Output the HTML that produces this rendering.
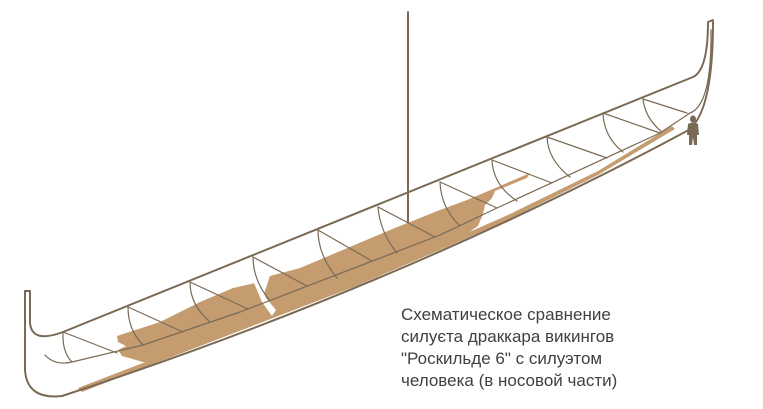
<!DOCTYPE html>
<html><head><meta charset="utf-8"><style>
html,body{margin:0;padding:0;background:#fff}
svg{display:block}
text{font-family:"Liberation Sans",Arial,sans-serif;font-size:17px;fill:#404040}
</style></head><body>
<svg width="763" height="409" viewBox="0 0 763 409" xmlns="http://www.w3.org/2000/svg">
<!-- brown remains -->
<polygon fill="#c49c70" points="117,336 160,322 200,302 233,288 255,283 262,300 270,276 300,268 390,230 440,210 467,200 500,186 530,173 527,178 495,191 492,198 485,205 483,214 478,226 449,246 356,286 247,328 156,362 143,362 122,356 118,350 126,346 118,342"/>
<polygon fill="#c49c70" points="78,388 156,358 247,323 356,281 449,241 510,214 598,171 672,126 675,129 598,175 510,219 449,246 356,286 247,328 156,363 82,392"/>
<polygon fill="#fff" points="254,283 260,282 266,298 276,310 272,316 262,302"/>
<polygon fill="#fff" points="482,224 494,210 540,190 520,205 488,222"/>
<g fill="none" stroke="#7a6a55" stroke-linecap="round" stroke-linejoin="round">
<line x1="408" y1="12" x2="408" y2="222" stroke-width="2"/>
<path d="M25,291 L30,291 L30,322 Q31,344 63,332 L693,77 Q708,70 708,22 L713,20" stroke-width="2"/>
<path d="M25,291 L25,370 Q27,400 62,396 Q400,285 685,132 Q713,118 713,22" stroke-width="2"/>
<path d="M711,30 Q712,105 690,113" stroke-width="1.3"/>
<path d="M45,355 Q55,366 72,362 L143,345 L240,312 L440,235 L497,208 L660,133 L690,113" stroke-width="1.2"/>
<g stroke-width="1.2">
<path d="M63,332 Q62,352 72,362"/><line x1="63" y1="332" x2="117" y2="353"/>
<path d="M128,307 Q128,330 143,345"/><line x1="128" y1="307" x2="183" y2="332"/>
<path d="M190,282 Q190,305 210,322"/><line x1="190" y1="282" x2="248" y2="309"/>
<path d="M253,257 Q253,280 270,301"/><line x1="253" y1="257" x2="307" y2="286"/>
<path d="M318,230 Q318,255 337,278"/><line x1="318" y1="230" x2="372" y2="261"/>
<path d="M378,207 Q380,232 397,253"/><line x1="378" y1="207" x2="435" y2="237"/>
<path d="M440,182 Q441,208 460,226"/><line x1="440" y1="182" x2="497" y2="208"/>
<path d="M492,160 Q493,185 517,201"/><line x1="492" y1="160" x2="552" y2="183"/>
<path d="M547,137 Q548,160 570,177"/><line x1="547" y1="137" x2="607" y2="158"/>
<path d="M603,113 Q604,137 623,152"/><line x1="603" y1="113" x2="660" y2="133"/>
<path d="M643,99 Q645,118 662,132"/><line x1="643" y1="99" x2="687" y2="113"/>
</g>
</g>
<g fill="#7a6a55">
<ellipse cx="693" cy="119" rx="3" ry="3.5"/>
<path d="M688,124 Q693,121 698,124 L699,135 L697,135 L697,145 L694,145 L693,137 L692,145 L689,145 L689,135 L687,135 Z"/>
</g>
<text x="401" y="320">Схематическое сравнение</text>
<text x="401" y="342">силуєта драккара викингов</text>
<text x="401" y="364">"Роскильде 6" с силуэтом</text>
<text x="401" y="386">человека (в носовой части)</text>
</svg>
</body></html>
